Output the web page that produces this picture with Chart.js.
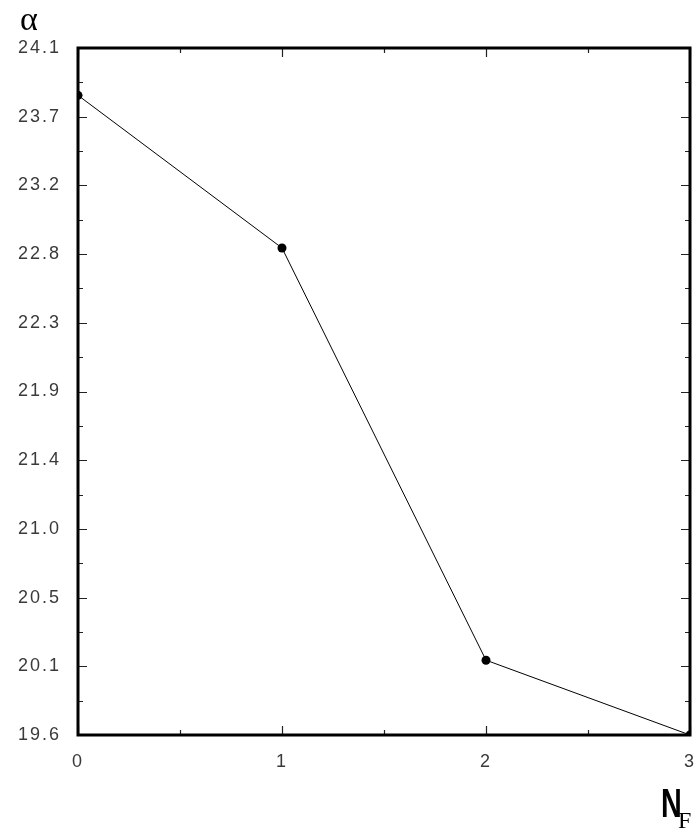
<!DOCTYPE html>
<html>
<head>
<meta charset="utf-8">
<script src="https://cdn.jsdelivr.net/npm/chart.js@4.4.1/dist/chart.umd.min.js"></script>
<style>
  html, body { margin: 0; padding: 0; background: #fff; }
  #wrap { position: relative; width: 698px; height: 828px; }
</style>
</head>
<body>
<div id="wrap"><canvas id="c" width="698" height="828"></canvas></div>
<script>
// Number of flavours and the fitted alpha value
const nfValues = [0, 1, 2, 3];
const alphaValues = [23.79, 22.79, 20.09, 19.60];

// Axis tick labels
const xTickLabels = ['0', '1', '2', '3'];
const yTickLabels = ['19.6', '20.1', '20.5', '21.0', '21.4', '21.9', '22.3', '22.8', '23.2', '23.7', '24.1'];
const yMin = 19.6, yMax = 24.1;
const xMin = 0, xMax = 3;

const yStep = (yMax - yMin) / (yTickLabels.length - 1);
const xStep = (xMax - xMin) / (xTickLabels.length - 1);

const labelFont = { family: 'Liberation Sans', size: 18 };
const labelColor = '#3a3a3a';
const labelSpacing = '2px';

// Wide, airy tick lettering
const spacingPlugin = {
  id: 'spacing',
  beforeUpdate(chart) { chart.ctx.letterSpacing = labelSpacing; },
  beforeDraw(chart) { chart.ctx.letterSpacing = labelSpacing; }
};

// Frame with inward ticks on all four sides, plus axis titles
const framePlugin = {
  id: 'frame',
  afterDatasetsDraw(chart) {
    const { ctx, chartArea: a, scales } = chart;
    const xs = scales.x, ys = scales.y;
    ctx.save();
    ctx.letterSpacing = '0px';
    ctx.strokeStyle = '#222';
    ctx.lineWidth = 1.2;
    ctx.beginPath();
    // y ticks: major at labelled values, minor halfway
    for (let i = 0; i <= (yTickLabels.length - 1) * 2; i++) {
      const v = yMin + i * yStep / 2;
      const py = Math.round(ys.getPixelForValue(v)) + 0.5;
      const len = i % 2 === 0 ? 9 : 5;
      ctx.moveTo(a.left, py); ctx.lineTo(a.left + len, py);
      ctx.moveTo(a.right, py); ctx.lineTo(a.right - len, py);
    }
    for (let i = 0; i <= (xTickLabels.length - 1) * 2; i++) {
      const v = xMin + i * xStep / 2;
      const px = Math.round(xs.getPixelForValue(v)) + 0.5;
      const len = i % 2 === 0 ? 9 : 5;
      ctx.moveTo(px, a.bottom); ctx.lineTo(px, a.bottom - len);
      ctx.moveTo(px, a.top); ctx.lineTo(px, a.top + len);
    }
    ctx.stroke();
    ctx.strokeStyle = '#000';
    ctx.lineWidth = 3;
    ctx.strokeRect(a.left, a.top, a.right - a.left, a.bottom - a.top);

    // axis titles
    ctx.fillStyle = '#000';
    ctx.textBaseline = 'alphabetic';
    ctx.textAlign = 'left';
    ctx.font = '34px "Liberation Serif"';
    ctx.fillText('\u03B1', 20, 30);
    ctx.save();
    ctx.translate(661, 817);
    ctx.scale(0.72, 1);
    ctx.font = 'bold 40px "Liberation Sans"';
    ctx.fillText('N', 0, 0);
    ctx.restore();
    ctx.font = '24px "Liberation Serif"';
    ctx.fillText('F', 678, 828);
    ctx.restore();
  }
};

new Chart(document.getElementById('c'), {
  type: 'line',
  data: {
    datasets: [{
      data: nfValues.map((x, i) => ({ x, y: alphaValues[i] })),
      borderColor: '#000',
      borderWidth: 1,
      backgroundColor: '#000',
      pointBackgroundColor: '#000',
      pointBorderWidth: 0,
      pointRadius: 4.5,
      tension: 0
    }]
  },
  options: {
    responsive: false,
    animation: false,
    layout: { padding: { left: 0, top: 48, right: 8, bottom: 0 } },
    plugins: { legend: { display: false }, tooltip: { enabled: false } },
    scales: {
      x: {
        type: 'linear',
        min: xMin, max: xMax,
        afterBuildTicks(scale) {
          scale.ticks = xTickLabels.map((t, i) => ({ value: xMin + i * xStep, label: t }));
        },
        afterFit(scale) {
          scale.height = 93;
          scale.paddingLeft = 0;
          scale.paddingRight = 0;
        },
        grid: { display: false, drawTicks: false },
        border: { display: false },
        ticks: {
          padding: 16,
          font: labelFont,
          color: labelColor,
          maxRotation: 0,
          autoSkip: false,
          callback(v, i) { return xTickLabels[i]; }
        }
      },
      y: {
        type: 'linear',
        min: yMin, max: yMax,
        afterBuildTicks(scale) {
          scale.ticks = yTickLabels.map((t, i) => ({ value: yMin + i * yStep, label: t }));
        },
        afterFit(scale) {
          scale.width = 78;
          scale.paddingTop = 0;
          scale.paddingBottom = 0;
        },
        grid: { display: false, drawTicks: false },
        border: { display: false },
        ticks: {
          padding: 17,
          font: labelFont,
          color: labelColor,
          autoSkip: false,
          callback(v, i) { return yTickLabels[i]; }
        }
      }
    }
  },
  plugins: [spacingPlugin, framePlugin]
});
</script>
</body>
</html>
